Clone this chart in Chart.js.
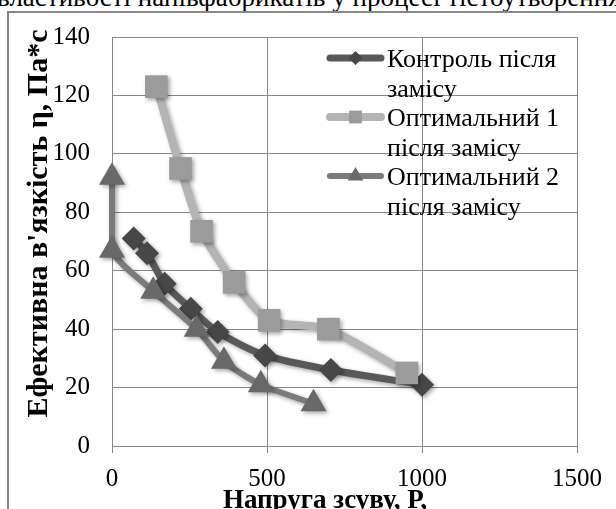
<!DOCTYPE html>
<html><head><meta charset="utf-8">
<script src="https://cdn.jsdelivr.net/npm/chart.js@4/dist/chart.umd.min.js"></script>
<style>
html,body{margin:0;padding:0;background:#fff;overflow:hidden;width:616px;height:509px;}
#top{position:absolute;left:-3px;top:-16px;font-family:"Liberation Serif";font-size:27px;line-height:27px;white-space:nowrap;color:#000;}
#frame{position:absolute;left:7px;top:11px;width:700px;height:600px;border:2px solid #878787;}
#wrap{position:absolute;left:0;top:0;width:616px;height:509px;}
#pre{position:absolute;left:-9999px;top:0;font-family:"Liberation Serif";font-size:25px;}
</style></head><body>
<div id="top">властивості напівфабрикатів у процесі тістоутворення</div>
<div id="pre">0123 Контроль <b>Напруга</b></div>
<div id="frame"></div>
<div id="wrap"><canvas id="c" width="616" height="509"></canvas></div>
<script>
// ---- data ----
const seriesNames = ["Контроль після замісу", "Оптимальний 1 після замісу", "Оптимальний 2 після замісу"];
const legendLines = [["Контроль після", "замісу"], ["Оптимальний 1", "після замісу"], ["Оптимальний 2", "після замісу"]];
const controlX = [70, 113, 170, 254, 341, 494, 706, 1000];
const controlY = [71, 66, 55.5, 47, 39, 31, 26, 21];
const opt1X = [143, 221, 289, 394, 507, 698, 951];
const opt1Y = [123, 95, 73.5, 56, 43, 40, 25];
const opt2X = [0, 0, 133, 273, 361, 480, 650];
const opt2Y = [92, 67, 53, 40, 29, 21, 14.5];
const xTicks = [0, 500, 1000, 1500];
const yTicks = [0, 20, 40, 60, 80, 100, 120, 140];
const xTitle = "Напруга зсуву, Р,";
const yTitle = "Ефективна в'язкість η, Па*с";

// ---- styles ----
const lineColors = ["#595959", "#b4b4b4", "#7b7b7b"];
const markerColors = ["#474747", "#9b9b9b", "#696969"];
const lineWidths = [7, 8, 6];
const pointStyles = ["rectRot", "rect", "triangle"];
const pointRadii = [12, 16, 15];
const legendRadii = [7, 9, 9];
const SERIF = '"Liberation Serif"';
const GRID = "#888888";

function pts(xs, ys) { return xs.map((x, i) => ({ x: x, y: ys[i] })); }
const seriesData = [pts(controlX, controlY), pts(opt1X, opt1Y), pts(opt2X, opt2Y)];

function drawMarker(ctx, style, r, x, y) {
  ctx.beginPath();
  if (style === "rectRot") {
    ctx.moveTo(x - r, y); ctx.lineTo(x, y - r); ctx.lineTo(x + r, y); ctx.lineTo(x, y + r);
  } else if (style === "rect") {
    const s = Math.SQRT1_2 * r;
    ctx.rect(x - s, y - s, 2 * s, 2 * s);
  } else {
    ctx.moveTo(x, y - r);
    ctx.lineTo(x + 0.866 * r, y + 0.5 * r);
    ctx.lineTo(x - 0.866 * r, y + 0.5 * r);
  }
  ctx.closePath();
  ctx.fill();
}

const shadowPlugin = {
  id: "shadow",
  beforeDatasetsDraw(chart) {
    const ctx = chart.ctx; ctx.save();
    ctx.shadowColor = "rgba(0,0,0,0.35)"; ctx.shadowBlur = 4; ctx.shadowOffsetX = 2; ctx.shadowOffsetY = 2;
  },
  afterDatasetsDraw(chart) { chart.ctx.restore(); }
};

const overlayPlugin = {
  id: "overlay",
  afterDraw(chart) {
    const ctx = chart.ctx;
    ctx.save();
    const lx0 = 330, lx1 = 381, tx = 387, y0 = 58, step = 59, lh = 29.5;
    legendLines.forEach((lines, i) => {
      const y = y0 + i * step;
      ctx.strokeStyle = lineColors[i]; ctx.lineWidth = lineWidths[i]; ctx.lineCap = "round";
      ctx.beginPath(); ctx.moveTo(lx0, y); ctx.lineTo(lx1, y); ctx.stroke();
      ctx.fillStyle = markerColors[i];
      drawMarker(ctx, pointStyles[i], legendRadii[i], (lx0 + lx1) / 2, y);
      ctx.fillStyle = "#000"; ctx.font = "26px " + SERIF; ctx.textAlign = "left"; ctx.textBaseline = "alphabetic";
      lines.forEach((t, j) => ctx.fillText(t, tx, y + 9 + j * lh));
    });
    ctx.fillStyle = "#000"; ctx.textAlign = "center"; ctx.textBaseline = "alphabetic";
    ctx.font = "bold 27px " + SERIF;
    ctx.fillText(xTitle, 325, 508);
    ctx.save();
    ctx.translate(47, 223.5); ctx.rotate(-Math.PI / 2);
    ctx.font = "bold 30px " + SERIF;
    ctx.fillText(yTitle, 0, 0);
    ctx.restore();
    ctx.restore();
  }
};

function build() {
  new Chart(document.getElementById("c"), {
    type: "scatter",
    data: {
      datasets: seriesData.map((d, i) => ({
        label: seriesNames[i],
        data: d,
        showLine: true,
        clip: false,
        borderColor: lineColors[i],
        borderWidth: lineWidths[i],
        backgroundColor: markerColors[i],
        pointBackgroundColor: markerColors[i],
        pointBorderWidth: 0,
        pointStyle: pointStyles[i],
        pointRadius: pointRadii[i],
        tension: 0.25,
        borderCapStyle: "round",
        borderJoinStyle: "round",
        order: 3 - i
      }))
    },
    options: {
      responsive: false,
      animation: false,
      devicePixelRatio: 1,
      layout: { padding: { top: 32, right: 39, left: 0, bottom: 0 } },
      plugins: { legend: { display: false }, tooltip: { enabled: false } },
      scales: {
        x: {
          type: "linear", min: 0, max: 1500,
          afterBuildTicks(s) { s.ticks = xTicks.map(v => ({ value: v })); },
          afterFit(s) { s.height = 63; },
          grid: { color: GRID, lineWidth: 1, drawTicks: true, tickLength: 7, tickColor: GRID },
          border: { color: GRID, width: 1 },
          ticks: { color: "#000", font: { family: SERIF, size: 25 }, padding: 11, maxRotation: 0, callback: v => String(v) }
        },
        y: {
          type: "linear", min: 0, max: 140,
          afterBuildTicks(s) { s.ticks = yTicks.map(v => ({ value: v })); },
          afterFit(s) { s.width = 112; },
          grid: { color: GRID, lineWidth: 1, drawTicks: false },
          border: { color: GRID, width: 1 },
          ticks: { color: "#000", font: { family: SERIF, size: 25 }, padding: 22, callback: v => String(v) }
        }
      }
    },
    plugins: [shadowPlugin, overlayPlugin]
  });
}

let built = false;
function go() { if (!built) { built = true; build(); } }
if (document.fonts && document.fonts.load) {
  Promise.all([
    document.fonts.load('25px "Liberation Serif"'),
    document.fonts.load('bold 25px "Liberation Serif"')
  ]).then(go, go);
  setTimeout(go, 300);
} else { go(); }
</script>
</body></html>
